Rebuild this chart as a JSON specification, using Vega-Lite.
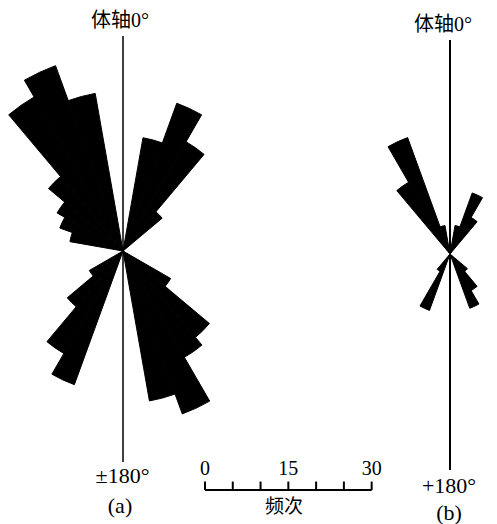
{
  "$schema": "https://vega.github.io/schema/vega-lite/v6.json",
  "width": 497,
  "height": 524,
  "autosize": {"type": "none"},
  "padding": 0,
  "background": "white",
  "config": {"view": {"stroke": null}},
  "datasets": {
    "roseA": [
      {"a0": -80, "a1": -70, "n": 9.7},
      {"a0": -70, "a1": -60, "n": 12.1},
      {"a0": -60, "a1": -50, "n": 13.7},
      {"a0": -50, "a1": -40, "n": 17.5},
      {"a0": -40, "a1": -30, "n": 32},
      {"a0": -30, "a1": -20, "n": 35.5},
      {"a0": -20, "a1": -10, "n": 28.8},
      {"a0": 10, "a1": 20, "n": 20.7},
      {"a0": 20, "a1": 30, "n": 28.3},
      {"a0": 30, "a1": 40, "n": 22.7},
      {"a0": 40, "a1": 50, "n": 9.2},
      {"a0": 120, "a1": 130, "n": 9.9},
      {"a0": 130, "a1": 140, "n": 20.3},
      {"a0": 140, "a1": 150, "n": 22.1},
      {"a0": 150, "a1": 160, "n": 31.2},
      {"a0": 160, "a1": 170, "n": 27.4},
      {"a0": -130, "a1": -120, "n": 7},
      {"a0": -140, "a1": -130, "n": 13.1},
      {"a0": -150, "a1": -140, "n": 21.3},
      {"a0": -160, "a1": -150, "n": 25.6}
    ],
    "roseB": [
      {"a0": -40, "a1": -30, "n": 14.9},
      {"a0": -30, "a1": -20, "n": 22.3},
      {"a0": -20, "a1": -10, "n": 5.2},
      {"a0": 10, "a1": 20, "n": 5.2},
      {"a0": 20, "a1": 30, "n": 11.7},
      {"a0": 30, "a1": 40, "n": 7.6},
      {"a0": 130, "a1": 140, "n": 4.1},
      {"a0": 140, "a1": 150, "n": 7.6},
      {"a0": 150, "a1": 160, "n": 10.4},
      {"a0": -150, "a1": -140, "n": 3.6},
      {"a0": -160, "a1": -150, "n": 10.8}
    ],
    "bar": [
      {"v": 0, "label": "0"},
      {"v": 5},
      {"v": 10},
      {"v": 15, "label": "15"},
      {"v": 20},
      {"v": 25},
      {"v": 30, "label": "30"}
    ],
    "one": [{}]
  },
  "layer": [
    {
      "data": {"name": "roseA"},
      "mark": {"type": "arc", "color": "black", "stroke": "black", "strokeWidth": 1, "strokeJoin": "miter"},
      "encoding": {
        "x": {"datum": -14.76, "type": "quantitative", "scale": {"domain": [-36.9, 52.56], "nice": false, "zero": false}, "axis": null},
        "y": {"datum": 0, "type": "quantitative", "scale": {"domain": [-49.14, 45.18], "nice": false, "zero": false}, "axis": null},
        "theta": {"field": "a0", "type": "quantitative", "stack": null, "scale": {"domain": [-180, 180], "range": [-3.14159265, 3.14159265]}},
        "theta2": {"field": "a1"},
        "radius": {"field": "n", "type": "quantitative", "scale": {"type": "linear", "domain": [0, 30], "range": [0, 166.68], "zero": true, "nice": false}}
      }
    },
    {
      "data": {"name": "roseB"},
      "mark": {"type": "arc", "color": "black", "stroke": "black", "strokeWidth": 1, "strokeJoin": "miter"},
      "encoding": {
        "x": {"datum": 44.1, "type": "quantitative", "scale": {"domain": [-36.9, 52.56], "nice": false, "zero": false}, "axis": null},
        "y": {"datum": -0.54, "type": "quantitative", "scale": {"domain": [-49.14, 45.18], "nice": false, "zero": false}, "axis": null},
        "theta": {"field": "a0", "type": "quantitative", "stack": null, "scale": {"domain": [-180, 180], "range": [-3.14159265, 3.14159265]}},
        "theta2": {"field": "a1"},
        "radius": {"field": "n", "type": "quantitative", "scale": {"type": "linear", "domain": [0, 30], "range": [0, 166.68], "zero": true, "nice": false}}
      }
    },
    {
      "data": {"name": "one"},
      "mark": {"type": "rule", "color": "black", "strokeWidth": 1.5},
      "encoding": {
        "x": {"datum": -14.76, "type": "quantitative"},
        "y": {"datum": 38.7, "type": "quantitative"},
        "y2": {"datum": -37.98}
      }
    },
    {
      "data": {"name": "one"},
      "mark": {"type": "rule", "color": "black", "strokeWidth": 2},
      "encoding": {
        "x": {"datum": 44.1, "type": "quantitative"},
        "y": {"datum": 37.98, "type": "quantitative"},
        "y2": {"datum": -39.42}
      }
    },
    {
      "data": {"name": "bar"},
      "mark": {"type": "rule", "color": "black", "strokeWidth": 2},
      "encoding": {
        "x": {"field": "v", "type": "quantitative"},
        "y": {"datum": -43.02, "type": "quantitative"},
        "y2": {"datum": -41.5}
      }
    },
    {
      "data": {"name": "one"},
      "mark": {"type": "rule", "color": "black", "strokeWidth": 2},
      "encoding": {
        "x": {"datum": 0, "type": "quantitative"},
        "x2": {"datum": 30},
        "y": {"datum": -43.02, "type": "quantitative"}
      }
    },
    {
      "data": {"name": "bar"},
      "transform": [{"filter": "isValid(datum.label)"}],
      "mark": {"type": "text", "font": "Liberation Serif", "fontSize": 20, "color": "black", "baseline": "middle", "align": "center"},
      "encoding": {
        "x": {"field": "v", "type": "quantitative"},
        "y": {"datum": -39.24, "type": "quantitative"},
        "text": {"field": "label"}
      }
    },
    {
      "data": {"name": "one"},
      "mark": {"type": "text", "text": "体轴0°", "font": "Liberation Serif, Noto Sans CJK SC", "fontSize": 20, "color": "black", "baseline": "middle", "align": "center"},
      "encoding": {
        "x": {"datum": -15.3, "type": "quantitative"},
        "y": {"datum": 41.4, "type": "quantitative"}
      }
    },
    {
      "data": {"name": "one"},
      "mark": {"type": "text", "text": "体轴0°", "font": "Liberation Serif, Noto Sans CJK SC", "fontSize": 20, "color": "black", "baseline": "middle", "align": "center"},
      "encoding": {
        "x": {"datum": 42.84, "type": "quantitative"},
        "y": {"datum": 40.68, "type": "quantitative"}
      }
    },
    {
      "data": {"name": "one"},
      "mark": {"type": "text", "text": "±180°", "font": "Liberation Serif", "fontSize": 22, "color": "black", "baseline": "middle", "align": "center"},
      "encoding": {
        "x": {"datum": -14.85, "type": "quantitative"},
        "y": {"datum": -40.5, "type": "quantitative"}
      }
    },
    {
      "data": {"name": "one"},
      "mark": {"type": "text", "text": "(a)", "font": "Liberation Serif", "fontSize": 22, "color": "black", "baseline": "middle", "align": "center"},
      "encoding": {
        "x": {"datum": -15.3, "type": "quantitative"},
        "y": {"datum": -45.9, "type": "quantitative"}
      }
    },
    {
      "data": {"name": "one"},
      "mark": {"type": "text", "text": "+180°", "font": "Liberation Serif", "fontSize": 22, "color": "black", "baseline": "middle", "align": "center"},
      "encoding": {
        "x": {"datum": 43.92, "type": "quantitative"},
        "y": {"datum": -42.3, "type": "quantitative"}
      }
    },
    {
      "data": {"name": "one"},
      "mark": {"type": "text", "text": "(b)", "font": "Liberation Serif", "fontSize": 22, "color": "black", "baseline": "middle", "align": "center"},
      "encoding": {
        "x": {"datum": 43.92, "type": "quantitative"},
        "y": {"datum": -47.16, "type": "quantitative"}
      }
    },
    {
      "data": {"name": "one"},
      "mark": {"type": "text", "text": "频次", "font": "Noto Sans CJK SC", "fontSize": 19, "color": "black", "baseline": "middle", "align": "center"},
      "encoding": {
        "x": {"datum": 14.22, "type": "quantitative"},
        "y": {"datum": -46.08, "type": "quantitative"}
      }
    }
  ]
}
